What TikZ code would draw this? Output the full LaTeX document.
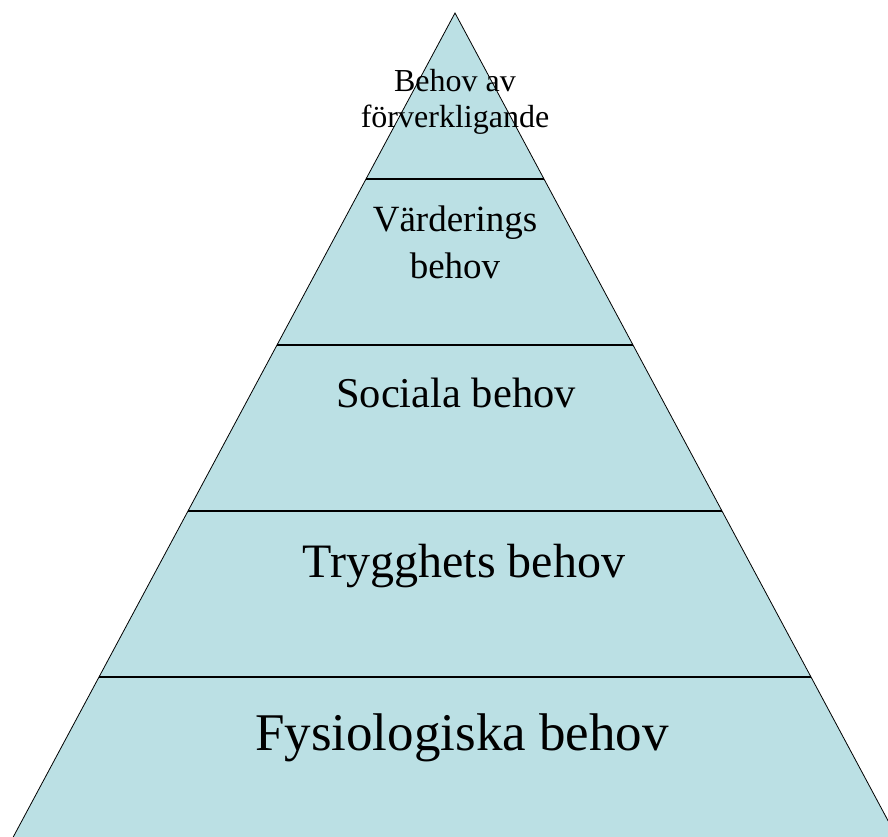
\documentclass[tikz,border=0pt]{standalone}
\usepackage{fontspec}
\setmainfont{Liberation Serif}
\usepackage{xcolor}
\usetikzlibrary{calc}
\definecolor{pyrfill}{RGB}{187,224,228}

\begin{document}
\begin{tikzpicture}[x=1pt, y=-1pt, line width=0.8pt,
        tier/.style={align=center, inner sep=0pt}]
            \useasboundingbox (0,0) rectangle (888,836);
            \clip (0,0) rectangle (888,836);
            \coordinate (top) at (455,13);
            \coordinate (bl) at (10,843);
            \coordinate (br) at (900,843);

            \filldraw [fill=pyrfill, draw=black] (top) -- (bl) -- (br) -- cycle;

            % steps of the pyramid
            \foreach \t [count=\i] in {0.2,0.4,0.6,0.8} {
                \coordinate (l\i) at ($(top)!\t!(bl)$);
                \coordinate (r\i) at ($(top)!\t!(br)$);
                \draw [line width=1.3pt] (l\i) -- (r\i);
            }

            \node [tier, font=\fontsize{32}{36}\selectfont] (self) at (455,102) {Behov av\\förverkligande};
            \node [tier, font=\fontsize{37}{47}\selectfont] (esteem) at (455,242) {Värderings\\behov};
            \node [tier, font=\fontsize{42.5}{48}\selectfont] (social) at (456,393) {Sociala behov};
            \node [tier, font=\fontsize{48}{52}\selectfont] (safety) at (464,566) {Trygghets behov};
            \node [tier, font=\fontsize{53}{58}\selectfont] (phys) at (462,738) {Fysiologiska behov};
        \end{tikzpicture}
\end{document}
